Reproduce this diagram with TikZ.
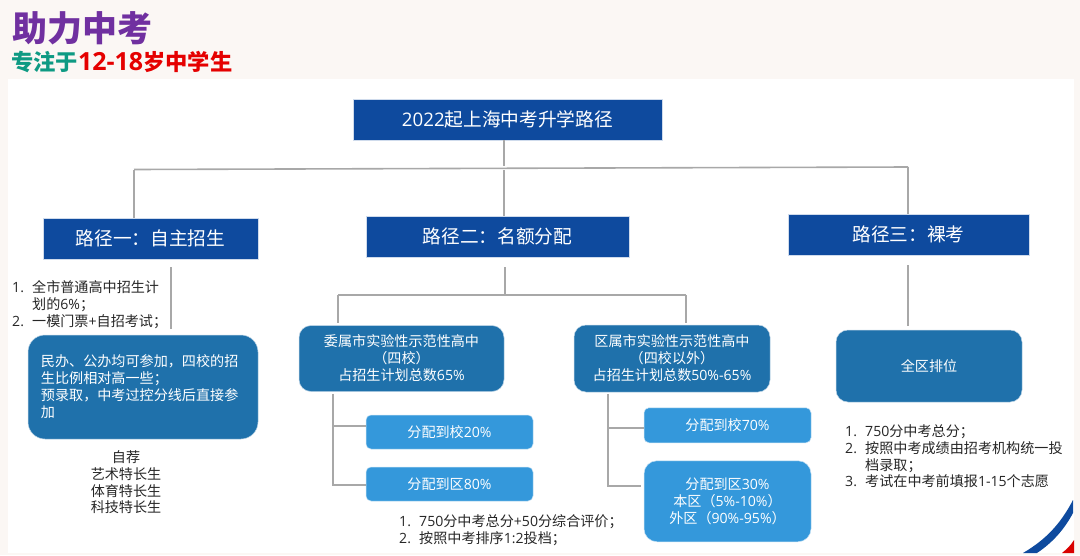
\documentclass[tikz,border=0pt]{standalone}
\usepackage{fontspec}
\setmainfont{Noto Sans CJK SC}
\newfontfamily\latin{Open Sans}
\definecolor{navy}{HTML}{0E4A9E}
\definecolor{dark}{HTML}{1F71AB}
\definecolor{light}{HTML}{3498DB}
\definecolor{wire}{HTML}{A8A8A8}
\definecolor{ink}{HTML}{262626}
\definecolor{paper}{HTML}{FBF7F4}
\newcommand{\nr}[1]{\makebox[20pt][l]{\latin #1}}
\newcommand{\la}[1]{{\latin #1}}
\begin{document}
\begin{tikzpicture}[x=1pt, y=1pt,
    path/.style = {fill=navy, draw=navy!20, line width=0.5pt, text=white, font=\fontsize{18.7}{22}\selectfont, minimum height=41pt},
    main/.style = {fill=dark, draw=dark!30, line width=0.5pt, text=white, rounded corners=12pt, align=center, font=\fontsize{14.1}{17}\selectfont},
    sub/.style = {fill=light, draw=light!30, line width=0.5pt, text=white, rounded corners=5pt, align=center, minimum width=167pt, font=\fontsize{14.1}{17}\selectfont},
    note/.style = {text=ink, align=left, inner sep=0pt, font=\fontsize{14.1}{16.7}\selectfont},
    conn/.style = {draw=wire, line width=1.6pt}]
      \useasboundingbox (0,0) rectangle (1080,-555);
      \fill[paper] (0,0) rectangle (1080,-555);
      \fill[white] (8,-79) rectangle (1074,-553);

      \fill[navy] (1073,-500) .. controls (1060,-525) and (1045,-540) .. (1023,-553) -- (1037,-553) .. controls (1052,-543) and (1064,-530) .. (1073,-513) -- cycle;
      \fill[red!85!black] (1074,-540) .. controls (1071,-545) and (1067,-549) .. (1062,-553) -- (1074,-553) -- cycle;

      \node[text={rgb,255:red,112;green,48;blue,160}, font=\fontsize{35}{40}\selectfont\bfseries, inner sep=0pt, anchor=west] (title) at (12,-28) {助力中考};
      \node[text={rgb,255:red,14;green,154;blue,131}, font=\fontsize{22.3}{26}\selectfont\bfseries, inner sep=0pt, anchor=west] (subtitle) at (11,-62) {专注于\textcolor{red!90!black}{{\fontsize{25}{26}\selectfont\la{12-18}}岁中学生}};

      \node[path, minimum width=309pt] (root) at (507.5,-119.5) {\la{2022}起上海中考升学路径};

      \node[path, minimum width=263pt] (p2) [below of=root, node distance=117pt, xshift=-10pt] {路径二：名额分配};
      \node[path, minimum width=215pt] (p1) [left of=p2, node distance=347pt, yshift=-2pt] {路径一：自主招生};
      \node[path, minimum width=241pt] (p3) [right of=p2, node distance=411pt, yshift=2pt] {路径三：裸考};

      \node[main, minimum width=205pt, minimum height=66pt] (a) [below of=p2, node distance=122pt, xshift=-96pt] {委属市实验性示范性高中\\（四校）\\占招生计划总数\la{65\%}};
      \node[main, minimum width=196pt, minimum height=67pt] (b) [right of=a, node distance=270.5pt] {区属市实验性示范性高中\\（四校以外）\\占招生计划总数\la{50\%-65\%}};
      \node[main, minimum width=186pt, minimum height=72pt] (c) [below of=p3, node distance=131.5pt, xshift=20.5pt] {全区排位};
      \node[main, minimum width=230pt, minimum height=104pt, rounded corners=17pt, text width=204pt, inner xsep=13pt, align=left] (d) [below of=p1, node distance=148.5pt, xshift=-7.5pt] {民办、公办均可参加，四校的招\\生比例相对高一些；\\预录取，中考过控分线后直接参\\加};

      \node[sub, minimum height=34pt] (a1) [below of=a, node distance=73.5pt, xshift=48pt] {分配到校\la{20\%}};
      \node[sub, minimum height=34pt] (a2) [below of=a1, node distance=52pt] {分配到区\la{80\%}};
      \node[sub, minimum height=35pt] (b1) [below of=b, node distance=66.75pt, xshift=55.5pt] {分配到校\la{70\%}};
      \node[sub, minimum height=81pt, rounded corners=13pt] (b2) [below of=b1, node distance=76pt] {分配到区\la{30\%}\\本区（\la{5\%-10\%}）\\外区（\la{90\%-95\%}）};

      \node[note, anchor=west] (n1) at (12,-304.5) {\nr{1.}全市普通高中招生计\\\nr{}划的\la{6\%}；\\\nr{2.}一模门票\la{+}自招考试；};
      \node[note, align=center] (n2) at (126,-482.5) {自荐\\艺术特长生\\体育特长生\\科技特长生};
      \node[note, anchor=west] (n3) at (399,-530.5) {\nr{1.}\la{750}分中考总分\la{+50}分综合评价；\\\nr{2.}按照中考排序\la{1:2}投档；};
      \node[note, anchor=west] (n4) at (845,-456.5) {\nr{1.}\la{750}分中考总分；\\\nr{2.}按照中考成绩由招考机构统一投\\\nr{}档录取；\\\nr{3.}考试在中考前填报\la{1-15}个志愿};

      \coordinate (h1) at (504,-166);
      \coordinate (h2) at (504,-170);
      \coordinate (hl) at (134,-169.5);
      \coordinate (hr) at (908,-167);
      \coordinate (j1) at (505,-294);
      \coordinate (jl) at (338,-295);
      \coordinate (jr) at (686,-295);
      \coordinate (t1) at (333,-426);
      \coordinate (t2) at (333,-485);
      \coordinate (t3) at (608,-428);
      \coordinate (t4) at (608,-486);
      \coordinate (s1) at (171,-300);
      \coordinate (s2) at (908,-300);

      \draw[conn] (root.south -| h1) -- (h1);
      \draw[conn] (h2) -- (p2.north -| h2);
      \draw[conn] (hl) -- (hr);
      \draw[conn] (hl) -- (p1.north -| hl);
      \draw[conn] (hr) -- (p3.north -| hr);

      \draw[conn, shorten <=8pt, shorten >=6pt] (p1.south -| s1) -- (d.north -| s1);
      \draw[conn, shorten <=10pt, shorten >=4pt] (p3.south -| s2) -- (c.north -| s2);

      \draw[conn, shorten <=10pt] (p2.south -| j1) -- (j1);
      \draw[conn] (jl) -- (jr);
      \draw[conn, shorten >=2pt] (jl) -- (a.north -| jl);
      \draw[conn, shorten >=2pt] (jr) -- (b.north -| jr);

      \draw[conn, shorten <=2pt] (a.south -| t2) -- (t2) -- (a2.west |- t2);
      \draw[conn] (t1) -- (a1.west |- t1);
      \draw[conn, shorten <=2pt] (b.south -| t4) -- (t4) -- ([xshift=-3pt]b2.west |- t4);
      \draw[conn] (t3) -- (b1.west |- t3);
    \end{tikzpicture}
\end{document}
